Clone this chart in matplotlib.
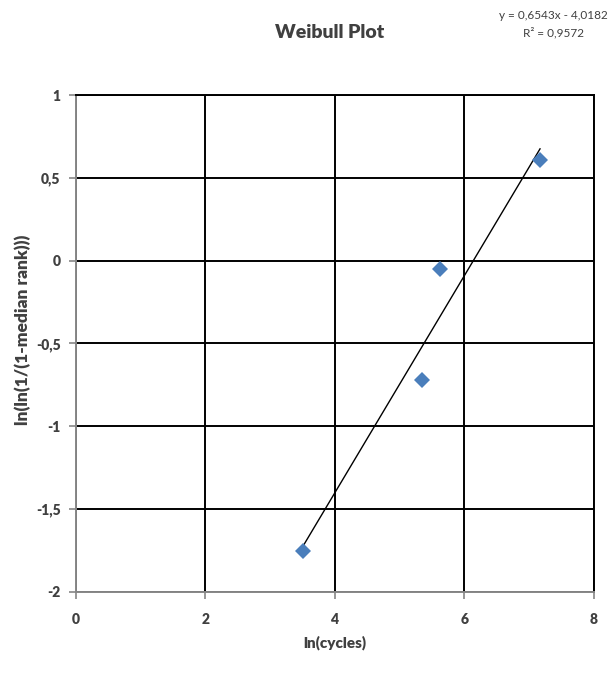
import numpy as np
import matplotlib
matplotlib.use("Agg")
import matplotlib.pyplot as plt
from matplotlib.ticker import FuncFormatter

plt.rcParams["font.family"] = ["Lato", "DejaVu Sans"]

# data
ln_cycles = [3.50, 5.35, 5.62, 7.17]
ln_ln_rank = [-1.75, -0.72, -0.05, 0.61]
eq_text = "y = 0,6543x - 4,0182"
r2_text = "R² = 0,9572"
x_ticks = [0, 2, 4, 6, 8]
y_ticks = [-2, -1.5, -1, -0.5, 0, 0.5, 1]

txt = "#404040"
spine = "#868686"

fig = plt.figure(figsize=(6.14, 6.73), dpi=100)
ax = fig.add_axes([0.1238, 0.1204, 0.967 - 0.1238, 0.8588 - 0.1204])

ax.set_xlim(0, 8)
ax.set_ylim(-2, 1)
ax.set_xticks(x_ticks)
ax.set_yticks(y_ticks)
ax.grid(True, color="black", lw=1.4)
ax.set_axisbelow(True)

# trendline over data range
x = np.array(ln_cycles)
m, b = np.polyfit(x, np.array(ln_ln_rank), 1)
xs = np.array([x.min(), x.max()])
ax.plot(xs, m*xs + b, color="black", lw=1.0, zorder=3)
ax.plot(ln_cycles, ln_ln_rank, ls="none", marker="D", ms=8.5,
        color="#4A7EBB", markeredgewidth=0, zorder=4)

comma = FuncFormatter(lambda v, p: ("%g" % v).replace(".", ","))
ax.xaxis.set_major_formatter(comma)
ax.yaxis.set_major_formatter(comma)
ax.tick_params(axis="both", colors=spine, labelcolor=txt, length=5,
               width=1.2, labelsize=10, direction="out")
ax.tick_params(axis="x", pad=10)
ax.tick_params(axis="y", pad=6)
for lab in ax.get_xticklabels() + ax.get_yticklabels():
    lab.set_fontweight("heavy")

for s in ["left", "bottom"]:
    ax.spines[s].set_color(spine)
    ax.spines[s].set_linewidth(1.4)
for s in ["top", "right"]:
    ax.spines[s].set_color("black")
    ax.spines[s].set_linewidth(1.4)

fig.text(0.545, 0.045, "ln(cycles)", fontsize=11, fontweight="heavy",
         color=txt, ha="center", va="center")
fig.text(0.037, 0.51, "ln(ln(1/(1-median rank)))", rotation=90, fontsize=12.5,
         fontweight="heavy", color=txt, ha="center", va="center")

fig.text(0.537, 0.951, "Weibull Plot", fontsize=14, fontweight="heavy",
         color=txt, ha="center", va="center")
fig.text(0.902, 0.977, eq_text, fontsize=8.5, color=txt, ha="center", va="center")
fig.text(0.902, 0.952, r2_text, fontsize=8.5, color=txt, ha="center", va="center")

fig.savefig("out.png", dpi=100, facecolor="white")
